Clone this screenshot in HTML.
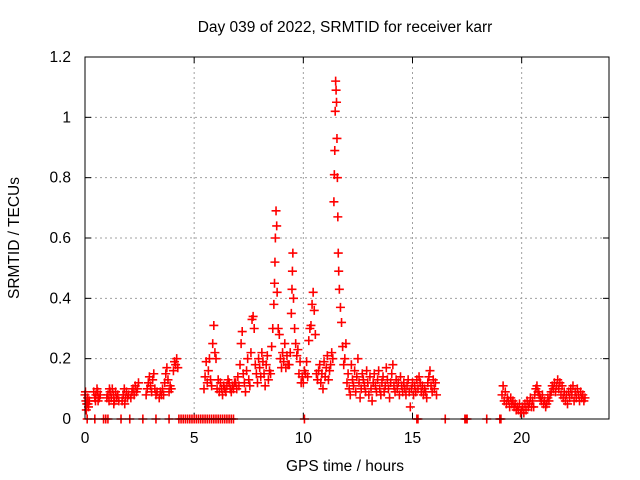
<!DOCTYPE html>
<html><head><meta charset="utf-8"><style>
html,body{margin:0;padding:0;background:#fff;}
svg{display:block;font-family:"Liberation Sans",sans-serif;}
</style></head><body>
<svg id="chart" width="640" height="480" viewBox="0 0 640 480" xmlns="http://www.w3.org/2000/svg">
<text x="345" y="32" font-size="15.5" text-anchor="middle">Day 039 of 2022, SRMTID for receiver karr</text>
<text x="345" y="471" font-size="15.5" text-anchor="middle">GPS time / hours</text>
<text x="0" y="0" font-size="15.5" text-anchor="middle" transform="translate(19,238) rotate(-90)">SRMTID / TECUs</text>
<g id="grid"></g>
<g id="ticks"></g>
<g id="marks"></g>
<rect x="85" y="57" width="524" height="362" fill="none" stroke="#000" stroke-width="1"/>
</svg>
<script>
const xTicks = [0,5,10,15,20];
const yTicks = [0,0.2,0.4,0.6,0.8,1,1.2];
const yTickLabels = ["0","0.2","0.4","0.6","0.8","1","1.2"];
const redPoints = [
[0.00,.08],[0.04,.06],[0.08,.05],[0.12,.07],[0.16,.04],[0.20,.06],[0.02,.09],[0.06,.03],[0.14,.05],
[0.40,.09],[0.45,.07],[0.50,.08],[0.55,.10],[0.60,.06],[0.65,.07],[0.70,.08],[0.48,.06],[0.58,.09],
[1.00,.07],[1.05,.08],[1.10,.06],[1.15,.09],[1.20,.07],[1.25,.10],[1.30,.08],[1.35,.06],[1.40,.09],[1.45,.07],[1.50,.08],[1.55,.06],[1.12,.10],[1.32,.05],
[1.70,.06],[1.75,.08],[1.80,.10],[1.85,.07],[1.90,.09],[1.95,.07],[2.00,.08],[1.82,.05],
[2.10,.07],[2.15,.09],[2.20,.10],[2.25,.08],[2.30,.11],[2.35,.09],[2.40,.10],[2.45,.12],
[2.80,.08],[2.85,.10],[2.90,.12],[2.95,.14],[3.00,.11],[3.05,.09],[3.10,.13],[3.15,.15],[3.20,.10],[3.25,.08],[3.30,.09],
[3.40,.07],[3.45,.09],[3.50,.08],[3.55,.10],[3.60,.08],[3.65,.12],[3.70,.15],[3.75,.17],[3.80,.13],[3.85,.09],[3.90,.11],[3.95,.10],
[4.05,.16],[4.10,.19],[4.15,.18],[4.20,.20],[4.25,.17],
[5.45,.10],[5.50,.14],[5.55,.19],[5.60,.12],[5.65,.16],[5.70,.20],[5.75,.13],[5.80,.11],[5.85,.25],[5.90,.31],[5.95,.22],[6.00,.20],[6.05,.10],[6.10,.13],[6.15,.09],[6.20,.12],[6.25,.10],[6.30,.08],[6.35,.11],[6.40,.10],[6.45,.09],[6.50,.11],[6.55,.13],[6.60,.12],[6.65,.10],[6.70,.09],[6.75,.11],[6.80,.10],[6.85,.12],
[6.90,.12],[6.95,.10],[7.00,.14],[7.05,.11],[7.10,.18],[7.15,.25],[7.20,.29],[7.25,.15],[7.30,.12],[7.35,.09],[7.40,.16],[7.45,.20],[7.50,.13],[7.55,.11],[7.60,.22],[7.65,.33],[7.70,.34],[7.75,.30],[7.80,.18],[7.85,.15],[7.90,.12],[7.95,.20],[8.00,.17],[8.05,.14],[8.10,.22],[8.15,.19],[8.20,.15],[8.25,.11],[8.30,.18],[8.35,.21],[8.40,.13],[8.45,.16],
[8.50,.15],[8.55,.24],[8.60,.30],[8.65,.38],[8.68,.45],[8.70,.52],[8.72,.60],[8.75,.69],[8.78,.64],[8.80,.42],[8.85,.30],[8.90,.28],[8.95,.20],[9.00,.17],[9.05,.22],[9.10,.19],[9.15,.25],[9.20,.17],[9.25,.21],[9.30,.18],
[9.35,.18],[9.40,.22],[9.45,.35],[9.48,.43],[9.50,.49],[9.52,.55],[9.55,.40],[9.60,.30],[9.65,.25],[9.70,.21],[9.75,.23],[9.80,.15],[9.85,.19],[9.90,.12],[9.95,.14],
[10.00,.12],[10.05,.16],[10.10,.15],[10.15,.19],[10.20,.14],[10.25,.26],[10.30,.30],[10.35,.31],[10.40,.38],[10.45,.42],[10.50,.36],[10.55,.28],[10.60,.15],
[10.65,.13],[10.70,.16],[10.75,.18],[10.80,.12],[10.85,.15],[10.90,.10],[10.95,.19],[11.00,.14],[11.05,.17],[11.10,.21],[11.15,.13],[11.20,.16],[11.25,.18],[11.30,.22],[11.35,.20],
[11.40,.72],[11.42,.81],[11.44,.89],[11.46,1.02],[11.48,1.12],[11.50,1.09],[11.52,1.05],[11.54,.93],[11.56,.80],[11.58,.67],[11.60,.55],[11.62,.49],[11.65,.43],[11.70,.37],[11.75,.32],[11.80,.24],[11.85,.18],[11.90,.20],[11.95,.25],
[12.00,.12],[12.05,.15],[12.10,.10],[12.15,.08],[12.20,.18],[12.25,.13],[12.30,.11],[12.35,.16],[12.40,.09],[12.45,.14],[12.50,.20],[12.55,.12],[12.60,.07],[12.65,.10],[12.70,.15],[12.75,.13],[12.80,.11],[12.85,.09],[12.90,.16],[12.95,.12],
[13.00,.08],[13.05,.14],[13.10,.10],[13.15,.06],[13.20,.12],[13.25,.15],[13.30,.11],[13.35,.09],[13.40,.13],[13.45,.16],[13.50,.10],[13.55,.08],[13.60,.12],[13.65,.14],[13.70,.09],[13.75,.11],[13.80,.17],[13.85,.13],[13.90,.10],[13.95,.07],
[14.00,.12],[14.05,.15],[14.10,.18],[14.15,.11],[14.20,.09],[14.25,.13],[14.30,.10],[14.35,.12],[14.40,.08],[14.45,.14],[14.50,.11],[14.55,.09],[14.60,.12],[14.65,.10],[14.70,.08],[14.75,.11],[14.80,.13],[14.85,.09],[14.90,.04],[14.95,.10],
[15.00,.12],[15.05,.08],[15.10,.11],[15.15,.09],[15.20,.13],[15.25,.10],[15.30,.14],[15.35,.12],[15.40,.09],[15.45,.11],[15.50,.08],[15.55,.10],[15.60,.09],[15.65,.07],[15.70,.12],[15.75,.14],[15.80,.16],[15.85,.11],[15.90,.09],[15.95,.13],[16.00,.10],[16.05,.12],[16.10,.08],
[19.10,.08],[19.15,.11],[19.20,.06],[19.25,.09],[19.30,.05],[19.35,.07],[19.40,.06],[19.45,.04],[19.50,.07],[19.55,.05],[19.60,.06],[19.65,.04],[19.70,.05],[19.75,.03],[19.80,.04],[19.85,.03],[19.90,.05],[19.95,.02],[20.00,.03],[20.05,.04],[20.10,.02],[20.15,.05],[20.20,.03],[20.25,.06],[20.30,.04],[20.35,.05],[20.40,.07],[20.45,.04],[20.50,.06],
[20.55,.04],[20.60,.08],[20.65,.10],[20.70,.11],[20.75,.09],[20.80,.08],[20.85,.07],[20.90,.06],[20.95,.08],[21.00,.05],[21.05,.06],[21.10,.04],[21.15,.05],[21.20,.07],[21.25,.06],[21.30,.08],[21.35,.09],[21.40,.11],[21.45,.10],[21.50,.12],[21.55,.09],[21.60,.11],[21.65,.13],[21.70,.10],[21.75,.12],
[21.80,.08],[21.85,.11],[21.90,.07],[21.95,.09],[22.00,.06],[22.05,.08],[22.10,.05],[22.15,.09],[22.20,.07],[22.25,.10],[22.30,.08],[22.35,.11],[22.40,.06],[22.45,.09],[22.50,.07],[22.55,.10],[22.60,.08],[22.65,.06],[22.70,.09],[22.75,.07],[22.80,.08],[22.85,.06],[22.90,.07]
];
const zeroTimes = [0.10,0.45,0.85,0.95,1.05,1.65,2.05,2.65,3.25,3.85,4.30,4.40,4.50,4.60,4.70,4.80,4.90,5.00,5.10,5.20,5.30,5.40,5.50,5.60,5.70,5.80,5.90,6.00,6.10,6.20,6.30,6.40,6.50,6.60,6.70,6.80,10.05,15.20,15.25,16.50,17.40,17.45,17.50,18.40,19.00,19.05];

const X0=85, X1=609, Y0=419, Y1=57, XMAX=24, YMAX=1.2;
const NS="http://www.w3.org/2000/svg";
function xs(v){return X0+(X1-X0)*v/XMAX;}
function ys(v){return Y0-(Y0-Y1)*v/YMAX;}
function mk(tag,attrs,parent){const e=document.createElementNS(NS,tag);for(const k in attrs)e.setAttribute(k,attrs[k]);parent.appendChild(e);return e;}
const grid=document.getElementById('grid'), ticks=document.getElementById('ticks'), marks=document.getElementById('marks');
xTicks.forEach(t=>{
  const x=xs(t);
  if(t>0){const g=mk('line',{x1:x,x2:x,y1:Y1,y2:Y0,stroke:'#a0a0a0','stroke-dasharray':'2,3'},grid);
  
  }
  mk('line',{x1:x,x2:x,y1:Y0,y2:Y0-6,stroke:'#000'},ticks);
  mk('line',{x1:x,x2:x,y1:Y1,y2:Y1+6,stroke:'#000'},ticks);
  const l=mk('text',{x:x,y:Y0+24,'font-size':15.5,'text-anchor':'middle'},ticks);
  l.textContent=String(t);
  
  
});
yTicks.forEach((t,i)=>{
  const y=ys(t);
  if(t>0&&t<YMAX){const g=mk('line',{x1:X0,x2:X1,y1:y,y2:y,stroke:'#a0a0a0','stroke-dasharray':'2,3'},grid);
  
  }
  mk('line',{x1:X0,x2:X0+6,y1:y,y2:y,stroke:'#000'},ticks);
  mk('line',{x1:X1,x2:X1-6,y1:y,y2:y,stroke:'#000'},ticks);
  const l=mk('text',{x:X0-14,y:y+5,'font-size':15.5,'text-anchor':'end'},ticks);
  l.textContent=yTickLabels[i];
  
  
});
function plus(x,y,name){
  const p=mk('path',{d:`M${x-4.5},${y}H${x+4.5}M${x},${y-4.5}V${y+4.5}`,stroke:'#ff0000','stroke-width':1.6,fill:'none'},marks);
  
  
}
redPoints.forEach(p=>plus(xs(p[0]),ys(p[1]),'srmtid-point'));
zeroTimes.forEach(t=>plus(xs(t),ys(0),'zero-point'));
</script>
</body></html>
